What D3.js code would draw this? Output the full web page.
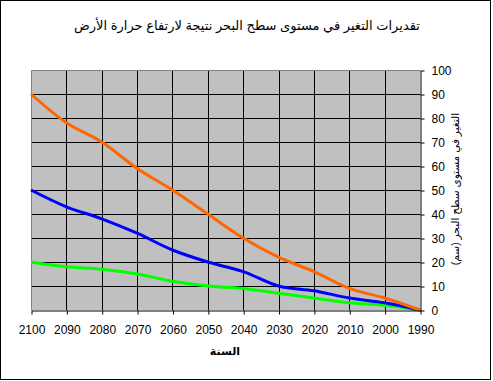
<!DOCTYPE html>
<html>
<head>
<meta charset="utf-8">
<script src="https://cdn.jsdelivr.net/npm/d3@7"></script>
<style>
  body { margin: 0; background: #fff; }
  svg { display: block; font-family: "Liberation Sans", Arial, "DejaVu Sans", sans-serif; }
</style>
</head>
<body>
<div id="chart"></div>
<script>
const years = [2100, 2090, 2080, 2070, 2060, 2050, 2040, 2030, 2020, 2010, 2000, 1990];
const highValues = [90, 78, 70, 59, 50, 40, 30, 22, 16, 9, 5, 0];
const midValues = [50, 43, 38, 32, 25, 20, 16, 10, 8, 5, 3, 0];
const lowValues = [20, 18, 17, 15, 12, 10, 9, 7, 5, 3, 2, 0];
const yTicks = [0, 10, 20, 30, 40, 50, 60, 70, 80, 90, 100];

const title = 'تقديرات التغير في مستوى سطح البحر نتيجة لارتفاع حرارة الأرض';
const xTitle = 'السنة';
const yTitle = 'التغير في مستوى سطح البحر (سم)';

const series = [
  {values: lowValues, color: '#00ff00'},
  {values: midValues, color: '#0000ff'},
  {values: highValues, color: '#ff6600'}
];

const width = 493, height = 381;
const plot = {left: 31, right: 420, top: 70, bottom: 310};

const svg = d3.select('#chart').append('svg')
    .attr('width', width)
    .attr('height', height);

// outer frame
svg.append('rect')
  .attr('x', 0.5).attr('y', 0.5)
  .attr('width', 490).attr('height', 379)
  .style('fill', '#fff')
  .style('stroke', '#000');

const x = d3.scaleLinear().domain([2100, 1990]).range([plot.left, plot.right]);
const y = d3.scaleLinear().domain([0, 100]).range([plot.bottom, plot.top]);

svg.append('rect')
  .attr('x', plot.left).attr('y', plot.top)
  .attr('width', plot.right - plot.left)
  .attr('height', plot.bottom - plot.top)
  .style('fill', '#c0c0c0');

// grid
svg.append('g').selectAll('line')
    .data(years.slice(1, -1))
  .enter()
    .append('line')
    .attr('x1', (d) => Math.round(x(d)) + 0.5)
    .attr('x2', (d) => Math.round(x(d)) + 0.5)
    .attr('y1', plot.top).attr('y2', plot.bottom)
    .style('stroke', '#000');
svg.append('g').selectAll('line')
    .data(yTicks.slice(1, -1))
  .enter()
    .append('line')
    .attr('y1', (d) => Math.round(y(d)) + 0.5)
    .attr('y2', (d) => Math.round(y(d)) + 0.5)
    .attr('x1', plot.left).attr('x2', plot.right)
    .style('stroke', '#000');

// gray plot border top/left
svg.append('path')
  .attr('d', `M${plot.left + 0.5},${plot.bottom}V${plot.top + 0.5}H${plot.right}`)
  .style('fill', 'none')
  .style('stroke', '#808080');

// lines
const line = d3.line()
  .x((d, i) => x(years[i]))
  .y((d) => y(d))
  .curve(d3.curveCatmullRom.alpha(0.5));

svg.append('g').selectAll('path')
    .data(series)
  .enter()
    .append('path')
    .attr('d', (d) => line(d.values))
    .style('fill', 'none')
    .style('stroke', (d) => d.color)
    .style('stroke-width', 3);

// axes
const xAxis = svg.append('g')
  .attr('transform', `translate(0.5,${plot.bottom + 0.5})`)
  .call(d3.axisBottom(x).tickValues(years).tickFormat(d3.format('d')).tickSize(4).tickSizeOuter(0));
const yAxis = svg.append('g')
  .attr('transform', `translate(${plot.right + 0.5},0.5)`)
  .call(d3.axisRight(y).tickValues(yTicks).tickSize(4).tickSizeOuter(0));

[xAxis, yAxis].forEach((a) => {
  a.select('.domain').style('stroke', '#000');
  a.selectAll('.tick line').style('stroke', '#000');
  a.selectAll('.tick text')
    .style('font-family', '"Liberation Sans", Arial, sans-serif')
    .style('font-size', '12px')
    .style('fill', '#000');
});
xAxis.selectAll('.tick text').attr('y', 15);
yAxis.selectAll('.tick text').attr('x', 11);

// titles
svg.append('text')
  .attr('x', 247).attr('y', 30)
  .attr('text-anchor', 'middle')
  .style('font-size', '13px')
  .text(title);

svg.append('text')
  .attr('x', 225).attr('y', 355)
  .attr('text-anchor', 'middle')
  .style('font-size', '11px')
  .style('font-weight', 'bold')
  .text(xTitle);

svg.append('text')
  .attr('transform', 'translate(459,189) rotate(-90)')
  .attr('text-anchor', 'middle')
  .style('font-size', '10.5px')
  .text(yTitle);
</script>
</body>
</html>
